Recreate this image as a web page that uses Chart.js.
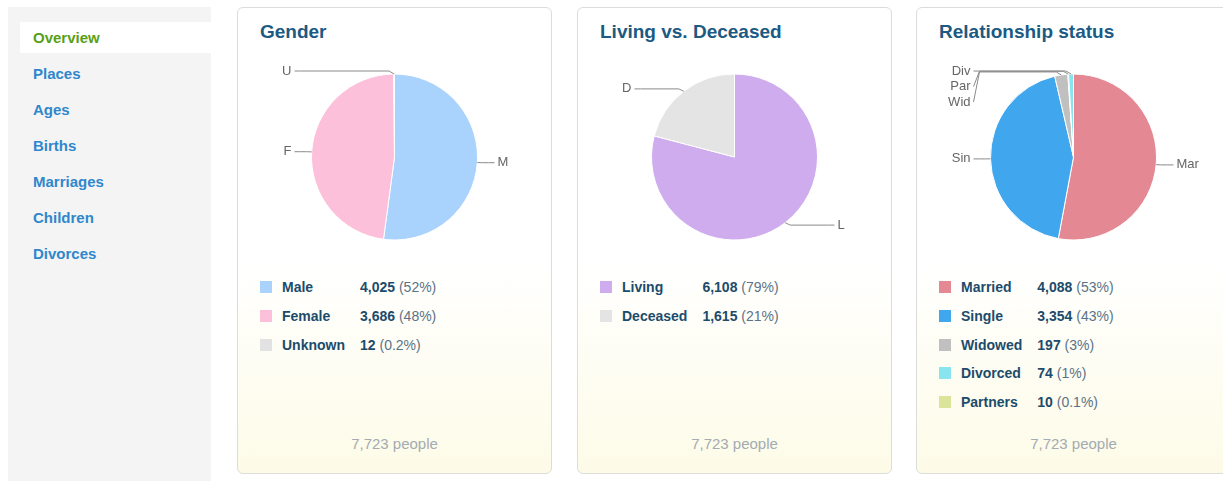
<!DOCTYPE html>
<html><head><meta charset="utf-8">
<script src="https://cdn.jsdelivr.net/npm/chart.js@4/dist/chart.umd.min.js"></script>
<style>
html,body{margin:0;padding:0;background:#fff;width:1223px;height:481px;overflow:hidden;font-family:"Liberation Sans",Arial,sans-serif;}
#side{position:absolute;left:8px;top:7px;width:203px;height:474px;background:#f4f4f4;}
#side div{position:absolute;left:12px;width:191px;height:31px;line-height:31px;padding-left:13px;box-sizing:border-box;font-weight:bold;font-size:15px;color:#2f87cc;}
#side div.active{background:#fff;color:#5a9f16;}
.card{position:absolute;top:7px;width:315px;height:467px;border:1px solid #dcdcdc;border-radius:6px;box-sizing:border-box;background:linear-gradient(#fff 0%,#fff 55%,#fdfbe7 100%);overflow:hidden;}
.card h2{position:absolute;left:22px;top:13px;margin:0;font-size:19px;line-height:22px;font-weight:bold;color:#1b5a83;}
.card canvas{position:absolute;left:0;top:49px;}
.card table{position:absolute;left:22px;top:265px;border-collapse:collapse;font-size:14px;color:#1d4b6b;}
.card td{height:28.7px;padding:0;vertical-align:middle;}
.card td.sw{width:22px;}
.card td.sw span{display:block;width:12px;height:12px;}
.card td.lb{font-weight:bold;padding-right:15px;}
.card td.vl b{font-weight:bold;}
.card td.vl span{color:#5b7286;}
.card .foot{position:absolute;left:0;width:100%;top:426px;line-height:20px;text-align:center;font-size:15px;color:#a3abb3;}
</style></head>
<body>
<div id="side"></div>
<div class="card" id="c1" style="left:237px"></div>
<div class="card" id="c2" style="left:577px"></div>
<div class="card" id="c3" style="left:916px"></div>
<script>
// ---- navigation ----
const navItems = ['Overview','Places','Ages','Births','Marriages','Children','Divorces'];

// ---- Gender ----
const genderCategories = ['Male','Female','Unknown'];
const genderShort = ['M','F','U'];
const genderValues = [4025, 3686, 12];
const genderPercents = ['52%','48%','0.2%'];
const genderColors = ['#a9d2fc','#fcc0da','#e2e2e2'];

// ---- Living vs. Deceased ----
const lifeCategories = ['Living','Deceased'];
const lifeShort = ['L','D'];
const lifeValues = [6108, 1615];
const lifePercents = ['79%','21%'];
const lifeColors = ['#ceacee','#e4e4e4'];

// ---- Relationship status ----
const relCategories = ['Married','Single','Widowed','Divorced','Partners'];
const relShort = ['Mar','Sin','Wid','Div','Par'];
const relValues = [4088, 3354, 197, 74, 10];
const relPercents = ['53%','43%','3%','1%','0.1%'];
const relColors = ['#e48893','#40a6ee','#c0c0c0','#88e5ef','#dae49b'];
const relPieOrder = [0,1,2,4,3];

// sidebar
const side = document.getElementById('side');
navItems.forEach((t,i)=>{
  const d=document.createElement('div');
  d.textContent=t; d.style.top=(15+36*i)+'px';
  if(i===0) d.className='active';
  side.appendChild(d);
});

const pieLabels = {
  id:'pieLabels',
  afterDatasetsDraw(chart){
    const ctx = chart.ctx;
    const meta = chart.getDatasetMeta(0);
    const names = chart.options.plugins.pieLabels.names;
    const items = [];
    meta.data.forEach((arc,i)=>{
      const p = arc.getProps(['x','y','startAngle','endAngle','outerRadius'], true);
      const mid = (p.startAngle+p.endAngle)/2;
      const side = Math.cos(mid) >= 0 ? 1 : -1;
      const ex = p.x + p.outerRadius*Math.cos(mid);
      const ey = p.y + p.outerRadius*Math.sin(mid);
      const ny = p.y + (p.outerRadius+3)*Math.sin(mid);
      items.push({name:names[i],side,ex,ey,ny,ly:ny,cx:p.x,r:p.outerRadius});
    });
    [1,-1].forEach(s=>{
      const arr = items.filter(o=>o.side===s).sort((a,b)=>a.ny-b.ny);
      for(let k=1;k<arr.length;k++){
        if(arr[k].ly < arr[k-1].ly+15.5) arr[k].ly = arr[k-1].ly+15.5;
      }
    });
    ctx.save();
    ctx.strokeStyle='#8a8a8a'; ctx.lineWidth=1;
    ctx.font='13px "Liberation Sans", Arial, sans-serif';
    ctx.fillStyle='#666';
    ctx.textBaseline='middle';
    items.forEach(o=>{
      const ax = o.cx + o.side*(o.r+17);
      ctx.beginPath();
      ctx.moveTo(ax, o.ly);
      ctx.lineTo(ax - o.side*6, o.ny);
      ctx.lineTo(o.ex + o.side*5, o.ny);
      ctx.lineTo(o.ex, o.ey);
      ctx.stroke();
      ctx.textAlign = o.side>0 ? 'left' : 'right';
      ctx.fillText(o.name, o.cx + o.side*(o.r+20), o.ly);
    });
    ctx.restore();
  }
};

function buildCard(id, title, cats, shorts, vals, pcts, colors, order){
  const card = document.getElementById(id);
  const h = document.createElement('h2'); h.textContent = title; card.appendChild(h);
  const cv = document.createElement('canvas'); cv.width=313; cv.height=200;
  cv.style.width='313px'; cv.style.height='200px';
  card.appendChild(cv);
  const tbl = document.createElement('table');
  cats.forEach((c,i)=>{
    const tr=document.createElement('tr');
    tr.innerHTML='<td class="sw"><span style="background:'+colors[i]+'"></span></td><td class="lb">'+c+'</td><td class="vl"><b>'+vals[i].toLocaleString('en-US')+'</b> <span>('+pcts[i]+')</span></td>';
    tbl.appendChild(tr);
  });
  card.appendChild(tbl);
  const total = vals.reduce((a,b)=>a+b,0);
  const f = document.createElement('div'); f.className='foot';
  f.textContent = total.toLocaleString('en-US')+' people';
  card.appendChild(f);
  const ord = order || cats.map((_,i)=>i);
  new Chart(cv, {
    type:'pie',
    data:{
      labels: ord.map(i=>cats[i]),
      datasets:[{
        data: ord.map(i=>vals[i]),
        backgroundColor: ord.map(i=>colors[i]),
        borderColor:'#fff', borderWidth:1
      }]
    },
    options:{
      responsive:false, animation:false, devicePixelRatio:1,
      radius:83,
      layout:{padding:0},
      plugins:{legend:{display:false}, tooltip:{enabled:false},
        pieLabels:{names: ord.map(i=>shorts[i])}}
    },
    plugins:[pieLabels]
  });
}

buildCard('c1','Gender',genderCategories,genderShort,genderValues,genderPercents,genderColors);
buildCard('c2','Living vs. Deceased',lifeCategories,lifeShort,lifeValues,lifePercents,lifeColors);
buildCard('c3','Relationship status',relCategories,relShort,relValues,relPercents,relColors,relPieOrder);
</script>
</body></html>
